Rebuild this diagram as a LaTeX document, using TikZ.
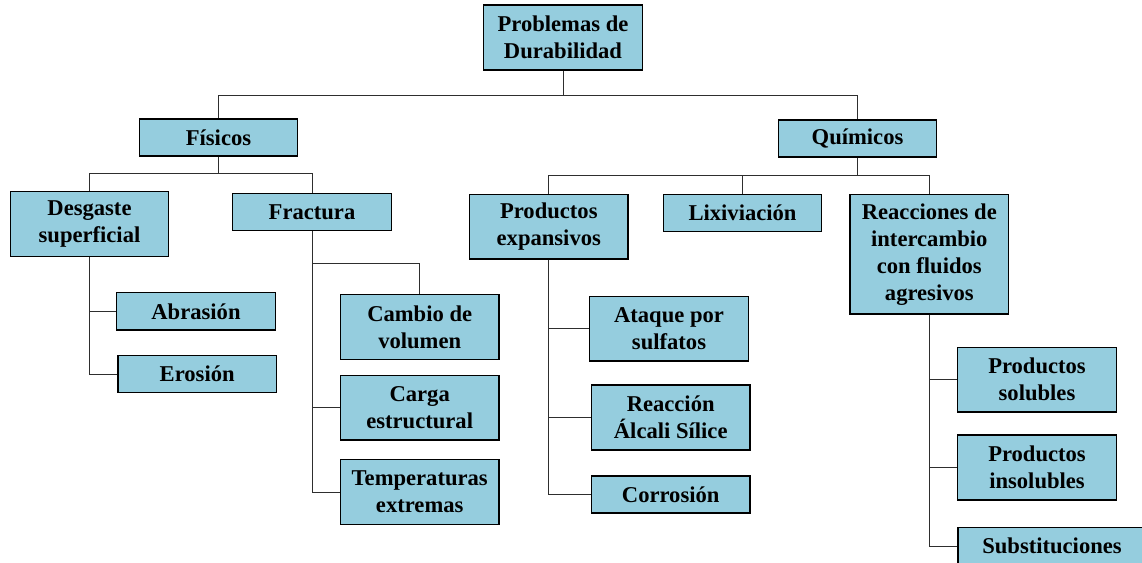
\documentclass[tikz,border=0pt]{standalone}
\usepackage{fontspec}
\setmainfont{Liberation Serif}
\definecolor{boxfill}{RGB}{149,205,222}
\begin{document}
\begin{tikzpicture}[x=1pt,y=-1pt,
  box/.style={draw=black,line width=1.3pt,fill=boxfill,inner sep=0pt,align=center,
    font=\fontsize{22.6}{27}\selectfont\bfseries,minimum width=#1},
  box/.default=158.6pt,
  link/.style={draw=black!82,line width=0.9pt}]
\clip (0,0) rectangle (1142,562);
\fill[white] (0,0) rectangle (1142,562);
% level 0
\node[box,minimum height=65pt] (root) at (563,37.5) {Problemas de\\Durabilidad};
% level 1
\node[box,minimum height=37pt] (fis) at (218.5,137.5) {Físicos};
\node[box,minimum height=37pt] (qui) at (857.5,138.5) {Químicos};
% físicos children
\node[box,minimum height=64.6pt] (des) at (89.5,224) {Desgaste\\superficial};
\node[box,minimum height=37pt] (fra) at (312,212.2) {Fractura};
\node[box,minimum height=37.3pt] (abr) at (196,311.3) {Abrasión};
\node[box,minimum height=37.3pt] (ero) at (197.2,374) {Erosión};
\node[box,minimum height=64.6pt] (cam) at (419.7,327) {Cambio de\\volumen};
\node[box,minimum height=64.6pt] (car) at (419.7,407.7) {Carga\\estructural};
\node[box,minimum height=64.6pt] (tem) at (419.7,492) {Temperaturas\\extremas};
% químicos children
\node[box,minimum height=64.3pt] (pex) at (548.8,226.8) {Productos\\expansivos};
\node[box,minimum height=37.4pt] (lix) at (742.5,213) {Lixiviación};
\node[box,minimum height=119.5pt] (rea) at (929.3,254.3) {Reacciones de\\intercambio\\con fluidos\\agresivos};
\node[box,minimum height=64.3pt] (ata) at (669,328.8) {Ataque por\\sulfatos};
\node[box,minimum height=65pt] (rac) at (670.7,417.5) {Reacción\\Álcali Sílice};
\node[box,minimum height=37pt] (cor) at (670.7,494.5) {Corrosión};
\node[box,minimum height=64.7pt] (sol) at (1037,379.7) {Productos\\solubles};
\node[box,minimum height=65pt] (ins) at (1037,467.5) {Productos\\insolubles};
\node[box=188pt,minimum height=37pt] (sub) at (1052,546) {Substituciones};
% connectors
\coordinate (b0) at (563,95);
\coordinate (b1) at (218.5,173.3);
\coordinate (b2) at (857.5,175.5);
\coordinate (b3) at (312,263);
\draw[link] (root.south) -- (b0);
\draw[link] (b0) -| (fis.north);
\draw[link] (b0) -| (qui.north);
\draw[link] (fis.south) -- (b1);
\draw[link] (b1) -| (des.north);
\draw[link] (b1) -| (fra.north);
\draw[link] (qui.south) -- (b2);
\draw[link] (b2) -| (pex.north);
\draw[link] (b2) -| (lix.north);
\draw[link] (b2) -| (rea.north);
\draw[link] (des.south) |- (abr.west);
\draw[link] (des.south) |- (ero.west);
\draw[link] (fra.south) -- (b3);
\draw[link] (b3) -| (cam.north);
\draw[link] (fra.south) |- (car.west);
\draw[link] (fra.south) |- (tem.west);
\draw[link] (pex.south) |- (ata.west);
\draw[link] (pex.south) |- (rac.west);
\draw[link] (pex.south) |- (cor.west);
\draw[link] (rea.south) |- (sol.west);
\draw[link] (rea.south) |- (ins.west);
\draw[link] (rea.south) |- (sub.west);
\end{tikzpicture}
\end{document}
